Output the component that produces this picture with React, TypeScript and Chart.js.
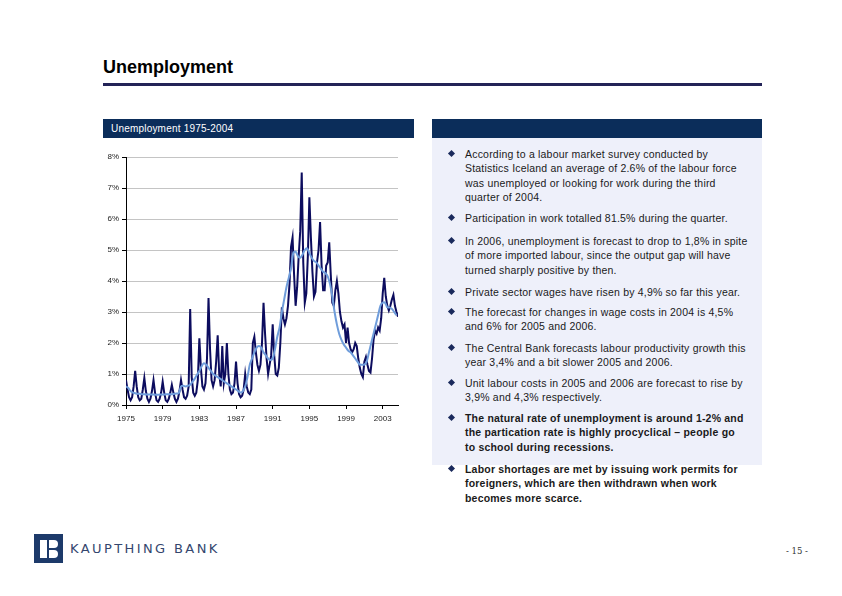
import React, { useEffect, useRef } from "react";
import { Chart, registerables } from "chart.js";

Chart.register(...registerables);

// ---- DATA ----
const START_YEAR = 1975;
// Registered unemployment, % of labour force, sampled every 2 months (Jan, Mar, May, Jul, Sep, Nov)
const unemploymentBimonthly: number[] = [
  0.8, 0.5, 0.25, 0.15, 0.25, 0.6, // 1975
  1.1, 0.6, 0.25, 0.15, 0.2, 0.5, // 1976
  0.87, 0.45, 0.2, 0.1, 0.2, 0.45, // 1977
  0.8, 0.4, 0.15, 0.1, 0.2, 0.4, // 1978
  0.75, 0.4, 0.15, 0.1, 0.2, 0.4, // 1979
  0.65, 0.4, 0.2, 0.1, 0.2, 0.45, // 1980
  0.8, 0.5, 0.25, 0.2, 0.3, 0.6, // 1981
  3.1, 0.9, 0.4, 0.3, 0.4, 0.8, // 1982
  2.15, 1.2, 0.6, 0.5, 0.7, 1.5, // 1983
  3.45, 1.8, 0.8, 0.6, 0.8, 1.4, // 1984
  2.25, 1.0, 0.6, 1.9, 0.7, 1.0, // 1985
  2.0, 1.0, 0.5, 0.35, 0.4, 0.7, // 1986
  1.4, 0.7, 0.35, 0.25, 0.3, 0.5, // 1987
  1.0, 0.6, 0.4, 0.35, 0.5, 2.0, // 1988
  2.2, 1.7, 1.3, 1.1, 1.3, 2.0, // 1989
  3.3, 2.3, 1.5, 1.0, 1.3, 1.6, // 1990
  2.6, 1.6, 1.0, 0.95, 1.2, 2.0, // 1991
  3.15, 2.8, 2.6, 2.8, 3.2, 3.9, // 1992
  5.1, 5.4, 4.2, 3.2, 3.8, 4.8, // 1993
  5.6, 7.5, 4.6, 3.3, 3.6, 4.8, // 1994
  6.7, 5.4, 4.3, 3.5, 3.65, 4.6, // 1995
  5.0, 5.9, 4.5, 3.7, 3.7, 4.5, // 1996
  4.6, 5.25, 4.2, 3.3, 3.2, 3.7, // 1997
  4.0, 3.6, 3.0, 2.7, 2.5, 2.6, // 1998
  2.0, 2.5, 2.0, 1.8, 1.7, 1.8, // 1999
  2.0, 1.9, 1.5, 1.2, 1.0, 0.9, // 2000
  1.4, 1.55, 1.3, 1.1, 1.05, 1.5, // 2001
  2.1, 2.4, 2.3, 2.5, 2.4, 2.8, // 2002
  3.6, 4.1, 3.5, 3.2, 3.05, 3.2, // 2003
  3.4, 3.55, 3.2, 3.0, 2.85, // 2004
];
// Trend (moving average), quarterly
const trendQuarterly: number[] = [
  0.6, 0.55, 0.45, 0.4, // 1975
  0.38, 0.36, 0.36, 0.35, // 1976
  0.35, 0.34, 0.34, 0.34, // 1977
  0.34, 0.33, 0.33, 0.34, // 1978
  0.34, 0.34, 0.35, 0.35, // 1979
  0.35, 0.36, 0.37, 0.38, // 1980
  0.6, 0.62, 0.6, 0.62, // 1981
  0.65, 0.75, 0.85, 0.98, // 1982
  1.1, 1.25, 1.35, 1.3, // 1983
  1.2, 1.1, 1.0, 0.95, // 1984
  0.9, 0.85, 0.8, 0.75, // 1985
  0.7, 0.65, 0.6, 0.55, // 1986
  0.5, 0.45, 0.4, 0.45, // 1987
  0.6, 0.9, 1.3, 1.5, // 1988
  1.7, 1.85, 1.9, 1.85, // 1989
  1.7, 1.6, 1.5, 1.45, // 1990
  1.5, 1.8, 2.2, 2.5, // 1991
  3.0, 3.4, 3.8, 4.1, // 1992
  4.4, 4.9, 4.95, 4.8, // 1993
  4.75, 4.85, 5.0, 5.05, // 1994
  4.9, 4.75, 4.65, 4.6, // 1995
  4.5, 4.4, 4.3, 4.25, // 1996
  4.15, 3.9, 3.5, 3.0, // 1997
  2.6, 2.3, 2.1, 1.95, // 1998
  1.85, 1.75, 1.7, 1.6, // 1999
  1.5, 1.4, 1.3, 1.3, // 2000
  1.3, 1.4, 1.7, 2.0, // 2001
  2.3, 2.6, 2.9, 3.2, // 2002
  3.3, 3.3, 3.15, 3.15, // 2003
  3.1, 3.0, 2.9, // 2004
];
const xTickYears = [1975, 1979, 1983, 1987, 1991, 1995, 1999, 2003];
const yTickValues = [0, 1, 2, 3, 4, 5, 6, 7, 8];
const X_MAX = 2004 + 8 / 12;

const bullets: { lines: string[]; top: number; bold?: boolean }[] = [
  {
    top: 154,
    lines: [
      "According to a labour market survey conducted by",
      "Statistics Iceland an average of 2.6% of the labour force",
      "was unemployed or looking for work during the third",
      "quarter of 2004.",
    ],
  },
  { top: 218, lines: ["Participation in work totalled 81.5% during the quarter."] },
  {
    top: 241,
    lines: [
      "In 2006, unemployment is forecast to drop to 1,8% in spite",
      "of more imported labour, since the output gap will have",
      "turned sharply positive by then.",
    ],
  },
  { top: 292, lines: ["Private sector wages have risen by 4,9% so far this year."] },
  {
    top: 312,
    lines: ["The forecast for changes in wage costs in 2004 is 4,5%", "and 6% for 2005 and 2006."],
  },
  {
    top: 348,
    lines: [
      "The Central Bank forecasts labour productivity growth this",
      "year 3,4% and a bit slower 2005 and 2006.",
    ],
  },
  {
    top: 383,
    lines: ["Unit labour costs in 2005 and 2006 are forecast to rise by", "3,9% and 4,3% respectively."],
  },
  {
    top: 418,
    bold: true,
    lines: [
      "The natural rate of unemployment is around 1-2% and",
      "the partication rate is highly procyclical \u2013 people go",
      "to school during recessions.",
    ],
  },
  {
    top: 469,
    bold: true,
    lines: [
      "Labor shortages are met by issuing work permits for",
      "foreigners, which are then withdrawn when work",
      "becomes more scarce.",
    ],
  },
];

const NAVY = "#0b2d5a";
const FONT = "'Liberation Sans', Arial, sans-serif";

function UnemploymentChart() {
  const ref = useRef<HTMLCanvasElement | null>(null);
  useEffect(() => {
    if (!ref.current) return;
    const darkPts = unemploymentBimonthly.map((v, i) => ({ x: START_YEAR + (i * 2) / 12, y: v }));
    const trendPts = trendQuarterly.map((v, i) => ({ x: START_YEAR + i * 0.25, y: v }));
    const chart = new Chart(ref.current, {
      type: "line",
      data: {
        datasets: [
          {
            label: "Trend",
            data: trendPts,
            borderColor: "#6f9ddb",
            borderWidth: 2,
            pointRadius: 0,
            tension: 0.3,
            fill: false,
          },
          {
            label: "Unemployment",
            data: darkPts,
            borderColor: "#0c0c5e",
            borderWidth: 2,
            pointRadius: 0,
            tension: 0,
            fill: false,
          },
        ],
      },
      options: {
        animation: false,
        responsive: true,
        maintainAspectRatio: false,
        layout: { padding: { top: 12, right: 7, left: 0, bottom: 0 } },
        plugins: { legend: { display: false }, tooltip: { enabled: false } },
        scales: {
          x: {
            type: "linear",
            min: START_YEAR,
            max: X_MAX,
            afterBuildTicks: (axis: any) => {
              axis.ticks = xTickYears.map((v) => ({ value: v }));
            },
            afterFit: (axis: any) => {
              axis.height = 25;
            },
            grid: {
              drawOnChartArea: false,
              drawTicks: true,
              tickLength: 4,
              tickColor: "#000",
            },
            border: { color: "#000", width: 1 },
            ticks: {
              autoSkip: false,
              maxRotation: 0,
              padding: 5,
              color: "#222",
              font: { family: FONT, size: 8 },
              callback: (v: any) => String(v),
            },
          },
          y: {
            min: 0,
            max: 8,
            afterBuildTicks: (axis: any) => {
              axis.ticks = yTickValues.map((v) => ({ value: v }));
            },
            afterFit: (axis: any) => {
              axis.width = 36;
            },
            grid: {
              color: "#c4c4c4",
              lineWidth: 1,
              drawTicks: true,
              tickLength: 4,
              tickColor: "#000",
            },
            border: { color: "#000", width: 1 },
            ticks: {
              padding: 3,
              color: "#222",
              font: { family: FONT, size: 8 },
              callback: (v: any) => v + "%",
            },
          },
        },
      },
    });
    return () => chart.destroy();
  }, []);
  return (
    <div style={{ position: "absolute", left: 90, top: 145, width: 315, height: 285 }}>
      <canvas ref={ref} />
    </div>
  );
}

function Logo() {
  return (
    <div style={{ position: "absolute", left: 34, top: 534, width: 200, height: 30 }}>
      <div style={{ position: "absolute", left: 0, top: 0, width: 29, height: 29, background: "#1d3a6a" }}>
        <div style={{ position: "absolute", left: 6, top: 6, width: 7, height: 18, background: "#fff" }} />
        <div
          style={{
            position: "absolute",
            left: 15,
            top: 6,
            width: 9,
            height: 8,
            background: "#fff",
            borderRadius: "0 5px 5px 0",
          }}
        />
        <div
          style={{
            position: "absolute",
            left: 15,
            top: 16,
            width: 9,
            height: 8,
            background: "#fff",
            borderRadius: "0 5px 5px 0",
          }}
        />
      </div>
      <div
        style={{
          position: "absolute",
          left: 36,
          top: 8,
          fontFamily: "'DejaVu Sans', sans-serif",
          fontSize: 13,
          letterSpacing: 2.4,
          color: "#34466e",
          whiteSpace: "nowrap",
          lineHeight: "14px",
        }}
      >
        KAUPTHING BANK
      </div>
    </div>
  );
}

export default function App() {
  const LH = 14.6;
  return (
    <div
      style={{
        position: "absolute",
        left: 0,
        top: 0,
        width: 842,
        height: 596,
        background: "#fff",
        overflow: "hidden",
        fontFamily: FONT,
      }}
    >
      <div
        style={{
          position: "absolute",
          left: 103,
          top: 56,
          fontSize: 18,
          fontWeight: "bold",
          color: "#000",
          lineHeight: "22px",
        }}
      >
        Unemployment
      </div>
      <div style={{ position: "absolute", left: 103, top: 83, width: 659, height: 3, background: "#232357" }} />

      <div style={{ position: "absolute", left: 103, top: 119, width: 311, height: 19, background: NAVY }}>
        <div
          style={{
            position: "absolute",
            left: 8,
            top: 4,
            color: "#fff",
            fontSize: 10,
            letterSpacing: 0.2,
            lineHeight: "12px",
            whiteSpace: "nowrap",
          }}
        >
          Unemployment 1975-2004
        </div>
      </div>

      <div style={{ position: "absolute", left: 432, top: 119, width: 330, height: 19, background: NAVY }} />
      <div style={{ position: "absolute", left: 432, top: 138, width: 330, height: 327, background: "#eef0fa" }} />

      {bullets.map((b, i) => (
        <React.Fragment key={i}>
          <div
            style={{
              position: "absolute",
              left: 449,
              top: b.top - 3,
              width: 5,
              height: 5,
              background: "#1a2a5c",
              transform: "rotate(45deg)",
            }}
          />
          <div
            style={{
              position: "absolute",
              left: 465,
              top: b.top - LH / 2,
              fontSize: 10.5,
              letterSpacing: 0.2,
              lineHeight: LH + "px",
              fontWeight: b.bold ? "bold" : "normal",
              color: "#1a1a1a",
              whiteSpace: "nowrap",
            }}
          >
            {b.lines.map((l, j) => (
              <div key={j}>{l}</div>
            ))}
          </div>
        </React.Fragment>
      ))}

      <UnemploymentChart />
      <Logo />

      <div
        style={{
          position: "absolute",
          left: 786,
          top: 545,
          fontFamily: "'DejaVu Serif', serif",
          fontSize: 8.5,
          color: "#333",
          lineHeight: "12px",
        }}
      >
        - 15 -
      </div>
    </div>
  );
}
